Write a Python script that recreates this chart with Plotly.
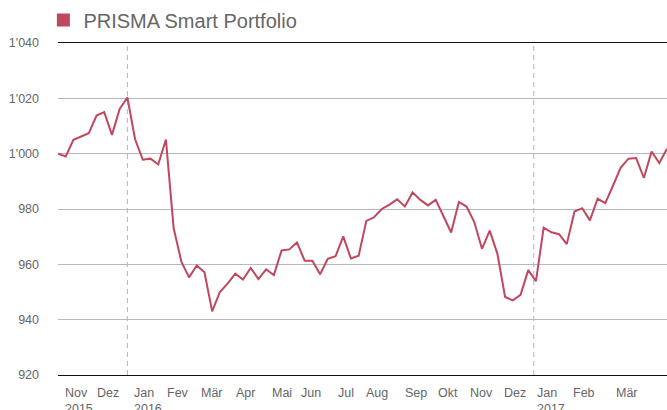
import pandas as pd
import plotly.graph_objects as go

# ---- data ----
start_date = "2015-10-30"
n_points = 80
values = [
    1000.0, 999.0, 1005.0, 1006.2, 1007.4, 1013.8, 1015.0, 1006.8, 1016.2, 1020.3,
    1005.2, 997.8, 998.2, 996.1, 1005.1, 973.1, 961.0, 955.3, 959.6, 957.1,
    943.0, 950.0, 953.0, 956.6, 954.5, 958.7, 954.7, 958.2, 956.1, 965.0,
    965.4, 967.9, 961.3, 961.3, 956.4, 962.0, 962.9, 970.1, 962.1, 963.1,
    975.7, 977.0, 980.0, 981.6, 983.5, 980.9, 986.0, 983.3, 981.3, 983.3,
    977.5, 971.5, 982.5, 980.9, 975.3, 965.6, 972.2, 963.8, 948.2, 947.0,
    949.0, 957.9, 953.9, 973.3, 971.6, 970.9, 967.3, 979.1, 980.3, 975.9,
    983.7, 982.1, 988.5, 995.0, 998.2, 998.4, 991.2, 1000.8, 996.6, 1001.8,
]
dates = pd.date_range(start_date, periods=n_points, freq="7D")

series_name = "PRISMA Smart Portfolio"
month_labels = ["Nov<br>2015", "Dez", "Jan<br>2016", "Fev", "Mär", "Apr", "Mai", "Jun",
                "Jul", "Aug", "Sep", "Okt", "Nov", "Dez", "Jan<br>2017", "Feb", "Mär"]
month_label_dates = ["2015-11-05", "2015-12-04", "2016-01-07", "2016-02-06", "2016-03-08",
                     "2016-04-09", "2016-05-11", "2016-06-07", "2016-07-10", "2016-08-05",
                     "2016-09-09", "2016-10-09", "2016-11-07", "2016-12-08", "2017-01-07",
                     "2017-02-09", "2017-03-20"]
year_breaks = ["2016-01-01", "2017-01-04"]
y_ticks = [920, 940, 960, 980, 1000, 1020, 1040]

LINE_COLOR = "#c0475e"
TEXT_COLOR = "#666666"
FONT = "Liberation Sans, Arial, sans-serif"

fig = go.Figure()
fig.add_trace(go.Scatter(
    x=dates, y=values, mode="lines",
    line=dict(color=LINE_COLOR, width=2),
    showlegend=False, hoverinfo="skip",
))
# legend entry (square swatch)
fig.add_trace(go.Scatter(
    x=[None], y=[None], mode="markers", name=series_name,
    marker=dict(symbol="square", size=13, color=LINE_COLOR),
    showlegend=True,
))

shapes = []
for d in year_breaks:
    shapes.append(dict(type="line", xref="x", yref="paper", x0=d, x1=d, y0=0, y1=1,
                       line=dict(color="#b5b5b5", width=1, dash="5px,4px"), layer="below"))
fig.update_layout(shapes=shapes)

for txt, d in zip(month_labels, month_label_dates):
    fig.add_annotation(x=d, y=0, xref="x", yref="paper", text=txt, showarrow=False,
                       xanchor="left", yanchor="top", align="left", yshift=-9, xshift=-2,
                       font=dict(family=FONT, size=12.5, color=TEXT_COLOR))

fig.update_layout(
    width=667, height=410,
    margin=dict(l=58, r=0, t=43, b=35),
    paper_bgcolor="white", plot_bgcolor="white",
    separators=".'",
    font=dict(family=FONT, size=12.5, color=TEXT_COLOR),
    showlegend=True,
    legend=dict(orientation="h", x=-0.024, y=1.069, xanchor="left", yanchor="middle",
                xref="paper", yref="paper",
                font=dict(family=FONT, size=20, color=TEXT_COLOR),
                bgcolor="rgba(0,0,0,0)", borderwidth=0, itemclick=False),
    xaxis=dict(range=[dates[0], dates[-1]], showgrid=False, showticklabels=False,
               zeroline=False, showline=True, mirror=True, linecolor="#111111",
               linewidth=1, ticks=""),
    yaxis=dict(range=[920, 1040], tickvals=y_ticks, tickformat=",d",
               showgrid=True, gridcolor="#b8b8b8", gridwidth=1, zeroline=False,
               ticks="", ticklabelstandoff=18, showline=False,
               tickfont=dict(family=FONT, size=12.5, color=TEXT_COLOR)),
)

fig.write_html("out.html", config={"displayModeBar": False},
               post_script="document.body.style.margin='0';")
